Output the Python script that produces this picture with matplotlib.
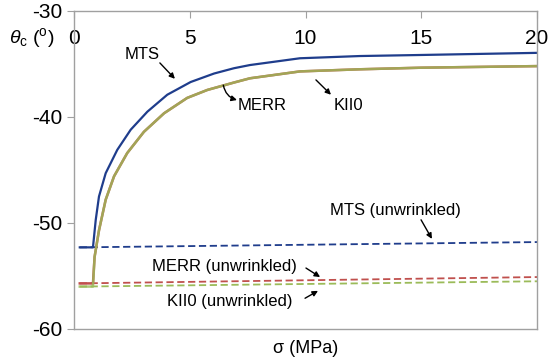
import matplotlib
matplotlib.use("Agg")
import matplotlib.pyplot as plt

plt.rcParams['font.family'] = ['Liberation Sans', 'DejaVu Sans']
plt.rcParams['mathtext.fontset'] = 'custom'
plt.rcParams['mathtext.it'] = 'Liberation Sans:italic'
plt.rcParams['mathtext.rm'] = 'Liberation Sans'
plt.rcParams['axes.unicode_minus'] = False

# Wrinkled case: crack angle vs stress
sig_mts = [0.25, 0.82, 0.94, 1.08, 1.37, 1.87, 2.45, 3.17, 4.03, 5.04, 6.05, 6.91,
           7.6, 9.76, 12.35, 15.0, 20.0]
th_mts = [-52.3, -52.3, -49.7, -47.5, -45.3, -43.1, -41.2, -39.5, -37.9, -36.7, -35.9, -35.4,
          -35.1, -34.46, -34.25, -34.15, -33.95]

sig_merr = [0.25, 0.82, 0.89, 1.08, 1.37, 1.73, 2.30, 3.02, 3.89, 4.89, 5.76, 6.91,
            7.6, 9.76, 12.35, 15.0, 20.0]
th_merr = [-55.7, -55.7, -53.2, -50.7, -47.8, -45.6, -43.4, -41.4, -39.65, -38.2, -37.45, -36.75,
           -36.35, -35.7, -35.5, -35.35, -35.2]
th_kii0 = [-56.0, -56.0, -53.2, -50.7, -47.8, -45.6, -43.4, -41.4, -39.65, -38.2, -37.45, -36.75,
           -36.35, -35.7, -35.5, -35.35, -35.2]

# Unwrinkled case
sig_flat = [0.25, 20.0]
th_mts_flat = [-52.3, -51.8]
th_merr_flat = [-55.7, -55.1]
th_kii0_flat = [-56.0, -55.5]

blue = '#1F3D8C'
red = '#C0504D'
green = '#9BBB59'

fig = plt.figure(figsize=(5.48, 3.59), dpi=100)
ax = fig.add_axes([0.135, 0.0836, 0.845, 0.8858])

ax.plot(sig_flat, th_mts_flat, '--', color=blue, lw=1.3, dashes=(4, 2))
ax.plot(sig_flat, th_merr_flat, '--', color=red, lw=1.3, dashes=(4, 2))
ax.plot(sig_flat, th_kii0_flat, '--', color=green, lw=1.3, dashes=(4, 2))

ax.plot(sig_mts, th_mts, color=blue, lw=1.6, solid_joinstyle='round')
ax.plot(sig_merr, th_merr, color=red, lw=1.8, solid_joinstyle='round')
ax.plot(sig_merr, th_kii0, color=green, lw=1.8, alpha=0.8, solid_joinstyle='round')

ax.set_xlim(0, 20)
ax.set_ylim(-60, -30)
ax.set_xticks([0, 5, 10, 15, 20])
ax.set_yticks([-60, -50, -40, -30])

for s in ax.spines.values():
    s.set_color('#A0A0A0')
    s.set_linewidth(1.0)

ax.xaxis.set_ticks_position('top')
ax.tick_params(axis='x', direction='in', length=5, color='#A0A0A0',
               labeltop=True, labelbottom=False, pad=-27, labelsize=15)
ax.tick_params(axis='y', direction='out', length=5, color='#A0A0A0',
               labelsize=15, pad=3)

ax.text(0.5, -0.035, 'σ (MPa)', transform=ax.transAxes, ha='center', va='top', fontsize=13)
fig.text(0.057, 0.894, r'$\theta_\mathrm{c}$ ($^\mathrm{o}$)', ha='center', va='center', fontsize=14)

arrow = dict(arrowstyle='-|>', color='black', lw=1.0, mutation_scale=8, shrinkA=0, shrinkB=0)
ax.text(2.94, -34.15, 'MTS', ha='center', va='center', fontsize=12)
ax.annotate('', xy=(4.36, -36.4), xytext=(3.71, -34.9), arrowprops=arrow)
ax.text(8.12, -38.9, 'MERR', ha='center', va='center', fontsize=12)
ax.annotate('', xy=(7.04, -38.4), xytext=(6.45, -37.0),
            arrowprops=dict(arrow, connectionstyle='arc3,rad=0.3'))
ax.text(11.84, -38.9, 'KII0', ha='center', va='center', fontsize=12)
ax.annotate('', xy=(11.1, -37.9), xytext=(10.45, -36.5), arrowprops=arrow)

ax.text(13.87, -48.8, 'MTS (unwrinkled)', ha='center', va='center', fontsize=12)
ax.annotate('', xy=(15.46, -51.5), xytext=(14.99, -49.7), arrowprops=arrow)
ax.text(6.48, -54.06, 'MERR (unwrinkled)', ha='center', va='center', fontsize=12)
ax.annotate('', xy=(10.63, -55.1), xytext=(10.02, -54.25), arrowprops=arrow)
ax.text(6.74, -57.45, 'KII0 (unwrinkled)', ha='center', va='center', fontsize=12)
ax.annotate('', xy=(10.54, -56.4), xytext=(9.98, -57.1), arrowprops=arrow)

fig.savefig('out.png', dpi=100)
